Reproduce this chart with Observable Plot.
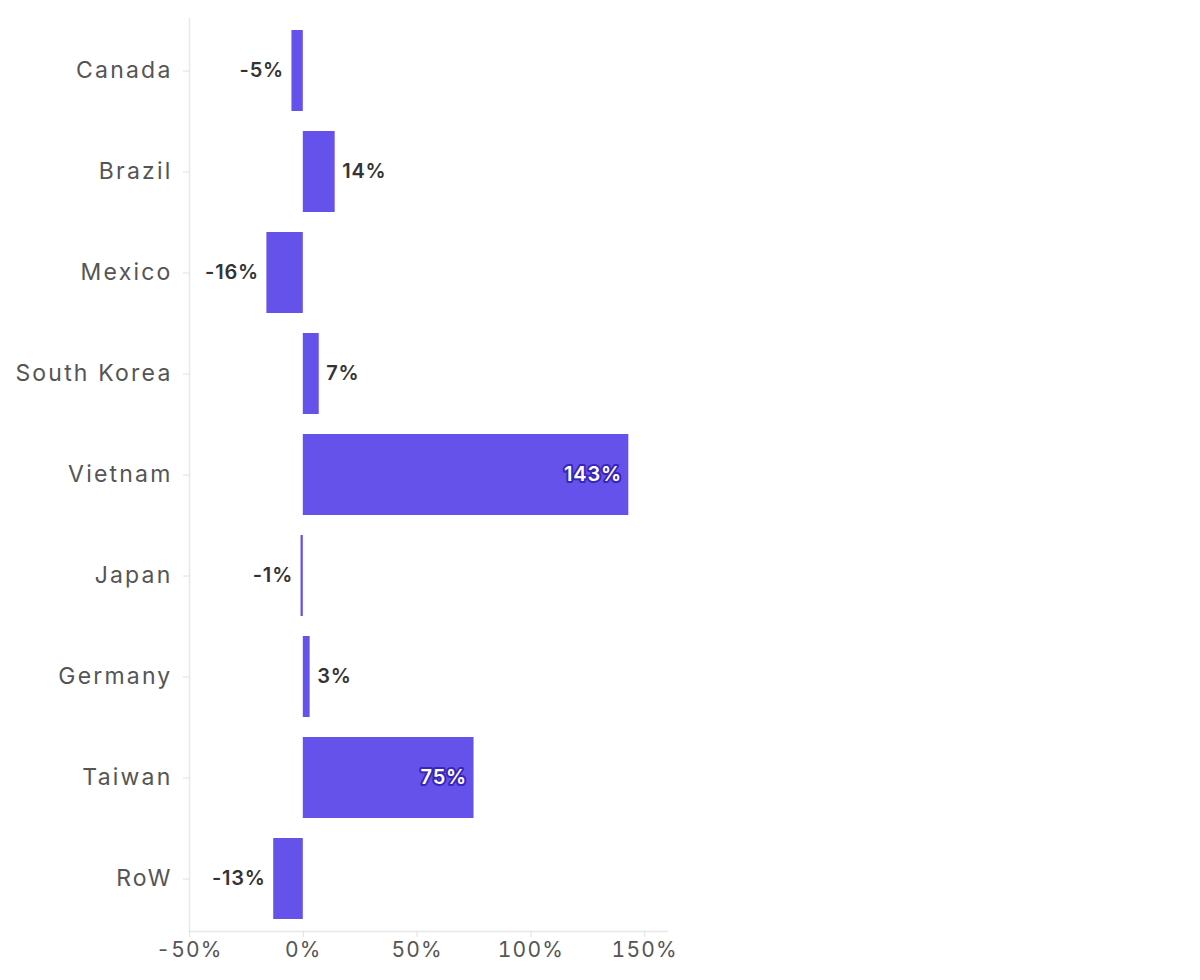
<!DOCTYPE html>
<html>
<head>
<meta charset="utf-8">
<script src="https://cdn.jsdelivr.net/npm/d3@7"></script>
<script src="https://cdn.jsdelivr.net/npm/@observablehq/plot@0.6"></script>
<style>
  html, body { margin: 0; padding: 0; background: #fff; }
  #chart { width: 1200px; height: 980px; }
  .yax text { letter-spacing: 2.2px; }
  .xax text { letter-spacing: 1.2px; }
  .vals text { letter-spacing: 0.8px; }
</style>
</head>
<body>
<div id="chart"></div>
<script>
const countries = ["Canada", "Brazil", "Mexico", "South Korea", "Vietnam", "Japan", "Germany", "Taiwan", "RoW"];
const changes = [-5, 14, -16, 7, 143, -1, 3, 75, -13];
const xTicks = [-50, 0, 50, 100, 150];

const data = countries.map((c, i) => ({country: c, value: changes[i]}));
const inside = data.filter(d => d.value >= 50);
const outPos = data.filter(d => d.value >= 0 && d.value < 50);
const outNeg = data.filter(d => d.value < 0);
const fmt = d => `${d.value}%`;
const pct = d => `${d}%`;

const FONT = "Inter, 'Open Sans', sans-serif";

const chart = Plot.plot({
  width: 1200,
  height: 980,
  marginLeft: 189,
  marginRight: 533,
  marginTop: 18,
  marginBottom: 49,
  style: {fontFamily: FONT, background: "#fff"},
  x: {domain: [-50, 160]},
  y: {domain: countries, paddingInner: 0.2, paddingOuter: 0.1},
  marks: [
    Plot.frame({anchor: "left", stroke: "#e8e8e8", strokeWidth: 1.5}),
    Plot.frame({anchor: "bottom", stroke: "#e8e8e8", strokeWidth: 1.5}),
    Plot.axisY({tickSize: 6, tickPadding: 11, stroke: "#e0e0e0", fill: "#555", fontSize: 23, label: null, className: "yax"}),
    Plot.axisX({ticks: xTicks, tickFormat: pct, tickSize: 6, tickPadding: 5, stroke: "#e0e0e0", fill: "#555", fontSize: 21, label: null, className: "xax"}),
    Plot.barX(data, {x: "value", y: "country", fill: "#6452ea"}),
    Plot.text(outPos, {x: "value", y: "country", text: fmt, textAnchor: "start", dx: 7, fill: "#333", fontSize: 20, fontWeight: 600, className: "vals"}),
    Plot.text(outNeg, {x: "value", y: "country", text: fmt, textAnchor: "end", dx: -8, fill: "#333", fontSize: 20, fontWeight: 600, className: "vals"}),
    Plot.text(inside, {x: "value", y: "country", text: fmt, textAnchor: "end", dx: -7, fill: "#fff", stroke: "#3a25b8", strokeWidth: 4, fontSize: 20, fontWeight: 600, className: "vals"})
  ]
});
document.getElementById("chart").appendChild(chart);
</script>
</body>
</html>
